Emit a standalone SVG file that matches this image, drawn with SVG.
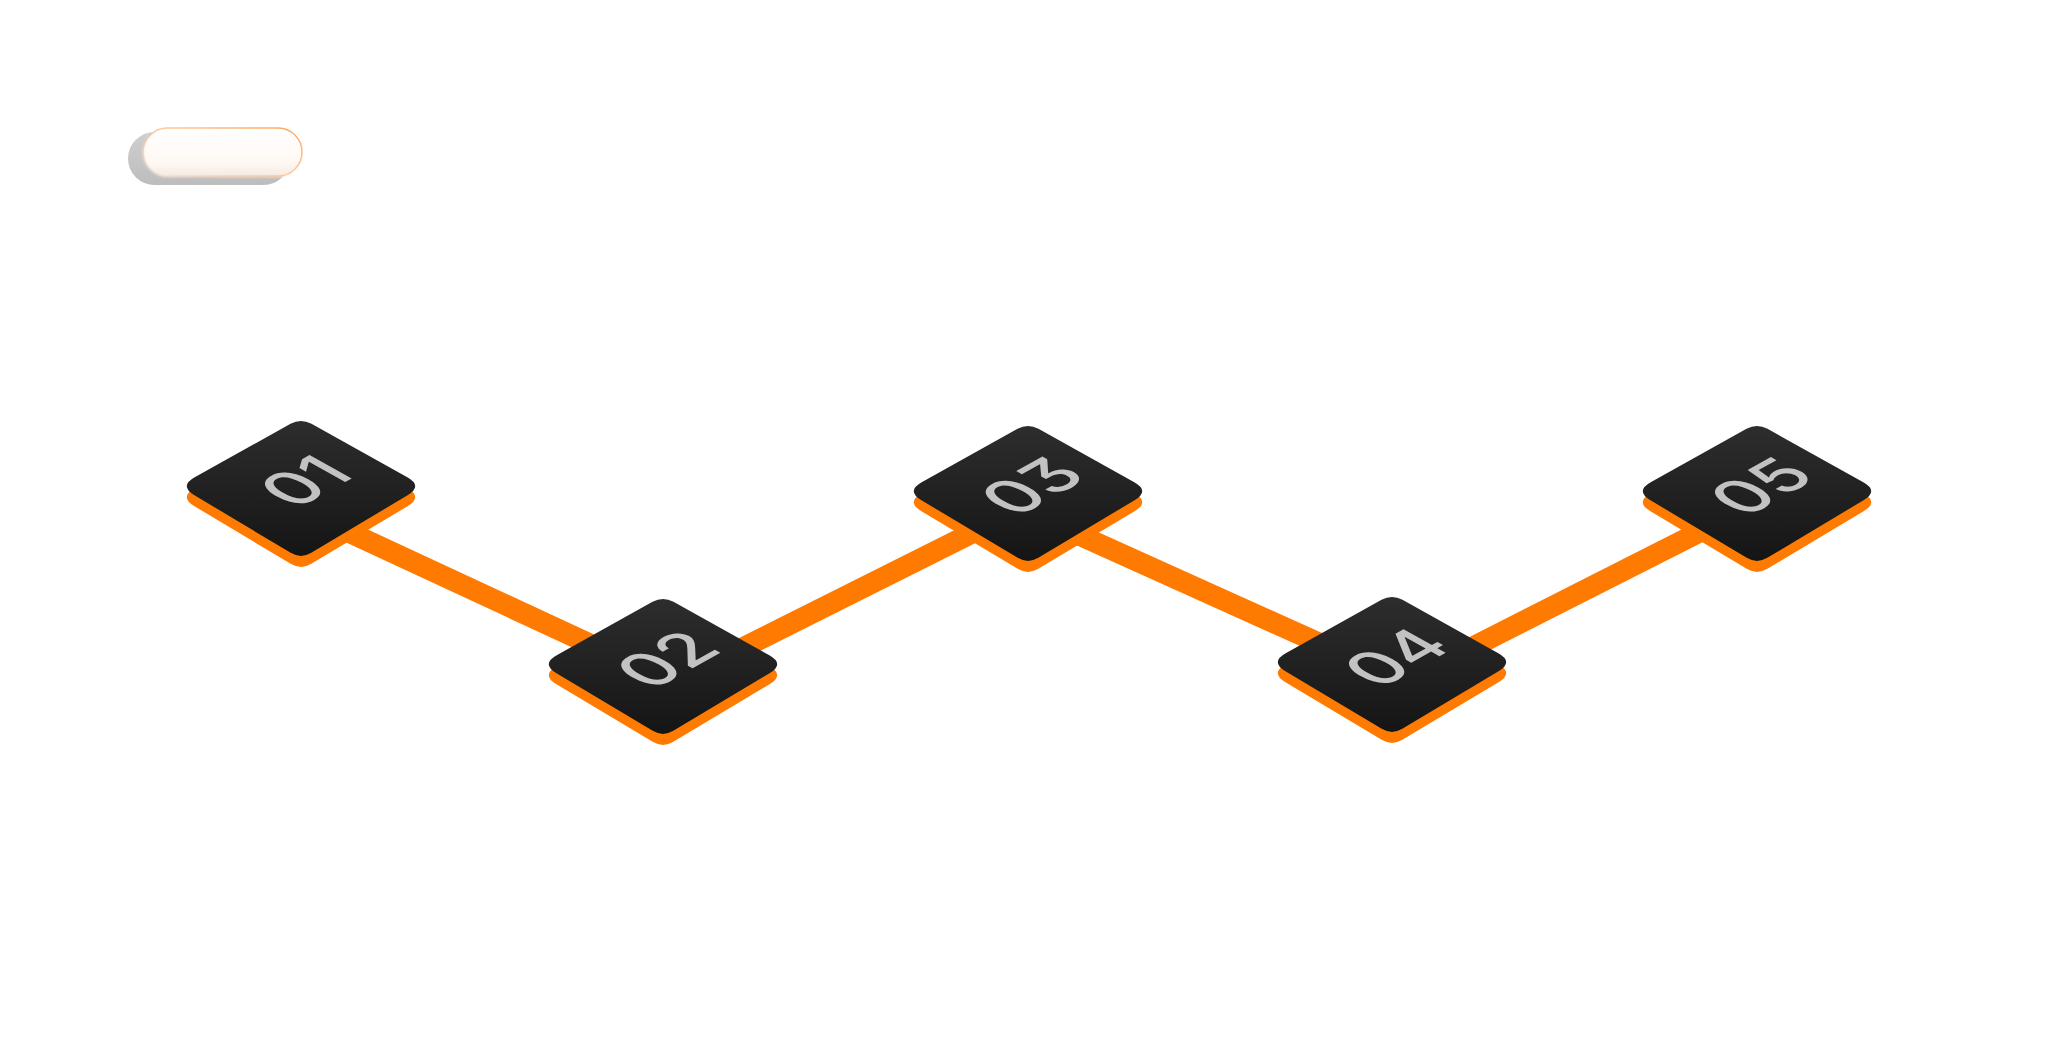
<svg xmlns="http://www.w3.org/2000/svg" width="2048" height="1059" viewBox="0 0 2048 1059">
  <defs>
    <linearGradient id="topFace" x1="0" y1="0" x2="0" y2="1">
      <stop offset="0" stop-color="#2d2d2d"/>
      <stop offset="1" stop-color="#151515"/>
    </linearGradient>
    <linearGradient id="pillFace" x1="0" y1="0" x2="0" y2="1">
      <stop offset="0" stop-color="#ffffff"/>
      <stop offset="0.7" stop-color="#fff8f3"/>
      <stop offset="1" stop-color="#f6e9e0"/>
    </linearGradient>
    <linearGradient id="pillShadow" x1="0" y1="0" x2="0" y2="1">
      <stop offset="0" stop-color="#cfcfcf"/>
      <stop offset="1" stop-color="#bdbdbd"/>
    </linearGradient>
    <linearGradient id="pillRim" x1="0" y1="1" x2="1" y2="0">
      <stop offset="0" stop-color="#ffb070" stop-opacity="0"/>
      <stop offset="0.45" stop-color="#ffb070" stop-opacity="0.6"/>
      <stop offset="1" stop-color="#ffa55a" stop-opacity="1"/>
    </linearGradient>
    <filter id="soft" x="-10%" y="-20%" width="120%" height="140%">
      <feGaussianBlur stdDeviation="1.2"/>
    </filter>
    <path id="slab" d="M10.48,-62.16 L106.3,-8.76 Q122,0 106.55,9.24 L10.3,66.84 Q0,73 -10.3,66.84 L-106.55,9.24 Q-122,0 -106.3,-8.76 L-10.48,-62.16 Q0,-68 10.48,-62.16 Z"/>
  </defs>
  <style>
    .conn { stroke: #ff7a00; stroke-width: 21; fill: none; stroke-linecap: butt; }
    .base { fill: #ff7a00; }
    .face { fill: url(#topFace); }
    .num { font-family: Inter, "Open Sans", "Noto Sans", sans-serif; font-weight: 500; font-size: 47px; fill: #c2c2c2; text-anchor: middle; font-feature-settings: "cv09" 1; }
  </style>

  <rect x="0" y="0" width="2048" height="1059" fill="#ffffff"/>

  <g id="legend-pill">
    <rect x="128" y="132" width="162" height="53" rx="26.5" fill="url(#pillShadow)"/>
    <rect x="143" y="128" width="159" height="49" rx="24.5" fill="url(#pillFace)" filter="url(#soft)"/>
    <rect x="143" y="128" width="159" height="48" rx="24" fill="none" stroke="url(#pillRim)" stroke-width="1.5"/>
  </g>

  <g id="connectors">
    <line class="conn" x1="301" y1="510" x2="663" y2="678"/>
    <line class="conn" x1="663" y1="688" x2="1028" y2="505"/>
    <line class="conn" x1="1028" y1="512" x2="1392" y2="676"/>
    <line class="conn" x1="1392" y1="688" x2="1757" y2="503"/>
  </g>

  <g id="node-01">
    <use href="#slab" class="base" x="301" y="497"/>
    <use href="#slab" class="face" x="301" y="486"/>
    <text class="num" transform="matrix(1.23,-0.685,1.23,0.685,301,486)" x="5" y="15">01</text>
  </g>

  <g id="node-02">
    <use href="#slab" class="base" x="663" y="675"/>
    <use href="#slab" class="face" x="663" y="664"/>
    <text class="num" transform="matrix(1.23,-0.685,1.23,0.685,663,664)" x="5" y="15">02</text>
  </g>

  <g id="node-03">
    <use href="#slab" class="base" x="1028" y="502"/>
    <use href="#slab" class="face" x="1028" y="491"/>
    <text class="num" transform="matrix(1.23,-0.685,1.23,0.685,1028,491)" x="5" y="15">03</text>
  </g>

  <g id="node-04">
    <use href="#slab" class="base" x="1392" y="673"/>
    <use href="#slab" class="face" x="1392" y="662"/>
    <text class="num" transform="matrix(1.23,-0.685,1.23,0.685,1392,662)" x="5" y="15">04</text>
  </g>

  <g id="node-05">
    <use href="#slab" class="base" x="1757" y="502"/>
    <use href="#slab" class="face" x="1757" y="491"/>
    <text class="num" transform="matrix(1.23,-0.685,1.23,0.685,1757,491)" x="5" y="15">05</text>
  </g>
</svg>
